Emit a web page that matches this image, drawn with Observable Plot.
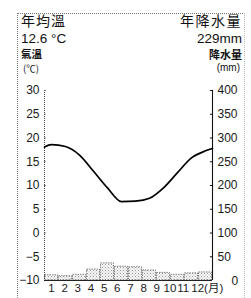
<!DOCTYPE html>
<html>
<head>
<meta charset="utf-8">
<script src="https://cdn.jsdelivr.net/npm/d3@7"></script>
<script src="https://cdn.jsdelivr.net/npm/@observablehq/plot@0.6"></script>
<style>
  html, body { margin: 0; padding: 0; background: #fff; }
  #wrap { position: relative; width: 251px; height: 298px; overflow: hidden; }
  .t { position: absolute; color: #111; line-height: 1; white-space: nowrap; font-family: "Noto Sans CJK TC", "Liberation Sans", sans-serif; }
  .num { font-family: "Liberation Sans", sans-serif; }
  #frame { position: absolute; left: 17px; top: 13px; width: 226px; height: 300px;
           border-top: 1px dotted #777; border-left: 1px dotted #777; border-right: 1px dotted #bbb; }
</style>
</head>
<body>
<div id="wrap">
  <div id="frame"></div>
  <div id="chart"></div>
  <div class="t" style="left:21px;top:13px;font-size:14px;letter-spacing:1px;">年均溫</div>
  <div class="t num" style="left:21px;top:31.5px;font-size:13.5px;">12.6 °C</div>
  <div class="t" style="left:21px;top:48.5px;font-size:10.5px;font-weight:bold;">氣溫</div>
  <div class="t" style="left:23px;top:64px;font-size:9.5px;">(℃)</div>
  <div class="t" style="right:9px;top:13px;font-size:14px;letter-spacing:1.5px;">年降水量</div>
  <div class="t num" style="right:9px;top:31.5px;font-size:13.5px;">229mm</div>
  <div class="t" style="right:9px;top:48.5px;font-size:11px;font-weight:bold;">降水量</div>
  <div class="t num" style="right:11px;top:62.5px;font-size:10px;">(mm)</div>
</div>
<script>
const months = [1, 2, 3, 4, 5, 6, 7, 8, 9, 10, 11, 12];
const monthLabels = ["1", "2", "3", "4", "5", "6", "7", "8", "9", "10", "11", "12(月)"];
const tempC = [18.6, 18.2, 16.4, 13.0, 9.5, 6.6, 6.7, 7.3, 9.5, 12.7, 15.8, 17.3];
const tempAtEdges = [18.1, 17.8]; // values read where the curve meets the left and right axes
const precipMm = [11, 9, 12, 23, 36, 29, 28, 21, 16, 12, 15, 17];
const tempTicks = [-10, -5, 0, 5, 10, 15, 20, 25, 30];
const precipTicks = [0, 50, 100, 150, 200, 250, 300, 350, 400];

// precipitation is drawn on the temperature scale: 0 mm -> -10 °C, 400 mm -> 30 °C
const mmToY = mm => mm / 10 - 10;
// month labels in the original sit slightly tighter than the bars
const labelX = m => 1 + (m - 1) * 0.94;

const bars = months.map((m, i) => ({m, p: precipMm[i]}));
const line = [{m: 0.5, t: tempAtEdges[0]}]
  .concat(months.map((m, i) => ({m, t: tempC[i]})))
  .concat([{m: 12.5, t: tempAtEdges[1]}]);
const labels = months.map((m, i) => ({m, text: monthLabels[i]}));

const chart = Plot.plot({
  width: 251,
  height: 298,
  marginLeft: 44,
  marginRight: 39,
  marginTop: 90,
  marginBottom: 18,
  x: {domain: [0.5, 12.5], axis: null},
  y: {domain: [-10, 30], axis: null},
  style: {fontFamily: "Liberation Sans, sans-serif", fontSize: "12px", background: "transparent", overflow: "visible", color: "#1a1a1a"},
  marks: [
    Plot.rectY(bars, {x1: d => d.m - 0.5, x2: d => d.m + 0.5, y1: -10, y2: d => mmToY(d.p),
      fill: "url(#dots)", stroke: "#666", strokeWidth: 0.8, strokeDasharray: "1.5,1", insetLeft: 0.5, insetRight: 0.5}),
    Plot.ruleX([0.5], {stroke: "#444", strokeDasharray: "1,1", strokeWidth: 1}),
    Plot.ruleX([12.5], {stroke: "#111", strokeWidth: 1.1}),
    Plot.ruleY(precipTicks.map(mmToY), {x1: 12.5, x2: 12.35, stroke: "#111"}),
    Plot.ruleY(tempTicks, {x1: 0.5, x2: 0.62, stroke: "#555"}),
    Plot.ruleY([-10], {stroke: "#222", strokeWidth: 1}),
    Plot.line(line, {x: "m", y: "t", stroke: "#000", strokeWidth: 1.7, curve: "monotone-x"}),
    Plot.axisY(tempTicks, {anchor: "left", tickSize: 0, tickPadding: 5, label: null}),
    Plot.axisY(precipTicks.filter(v => v > 0).map(mmToY), {anchor: "right", tickSize: 0, tickPadding: 5, label: null,
      tickFormat: d => String(Math.round((d + 10) * 10))}),
    Plot.axisY([mmToY(0)], {anchor: "right", tickSize: 0, tickPadding: 19, label: null, dy: 1,
      tickFormat: d => String(Math.round((d + 10) * 10))}),
    Plot.text(labels.slice(0, 11), {x: d => labelX(d.m), y: -10, text: "text", dy: 8, fontSize: 11.5, lineAnchor: "middle"}),
    Plot.text(labels.slice(11), {x: d => labelX(d.m), y: -10, text: "text", dy: 8, dx: -5, fontSize: 11.5, textAnchor: "start", lineAnchor: "middle",
      fontFamily: "Liberation Sans, Noto Sans CJK TC, sans-serif"})
  ]
});

const defs = d3.select(chart).insert("defs", ":first-child");
const pat = defs.append("pattern").attr("id", "dots").attr("patternUnits", "userSpaceOnUse").attr("width", 3).attr("height", 3);
pat.append("rect").attr("width", 3).attr("height", 3).attr("fill", "#f6f6f6");
pat.append("rect").attr("x", 0).attr("y", 0).attr("width", 1).attr("height", 1).attr("fill", "#999");
pat.append("rect").attr("x", 1.5).attr("y", 1.5).attr("width", 1).attr("height", 1).attr("fill", "#bbb");

document.getElementById("chart").appendChild(chart);
</script>
</body>
</html>
